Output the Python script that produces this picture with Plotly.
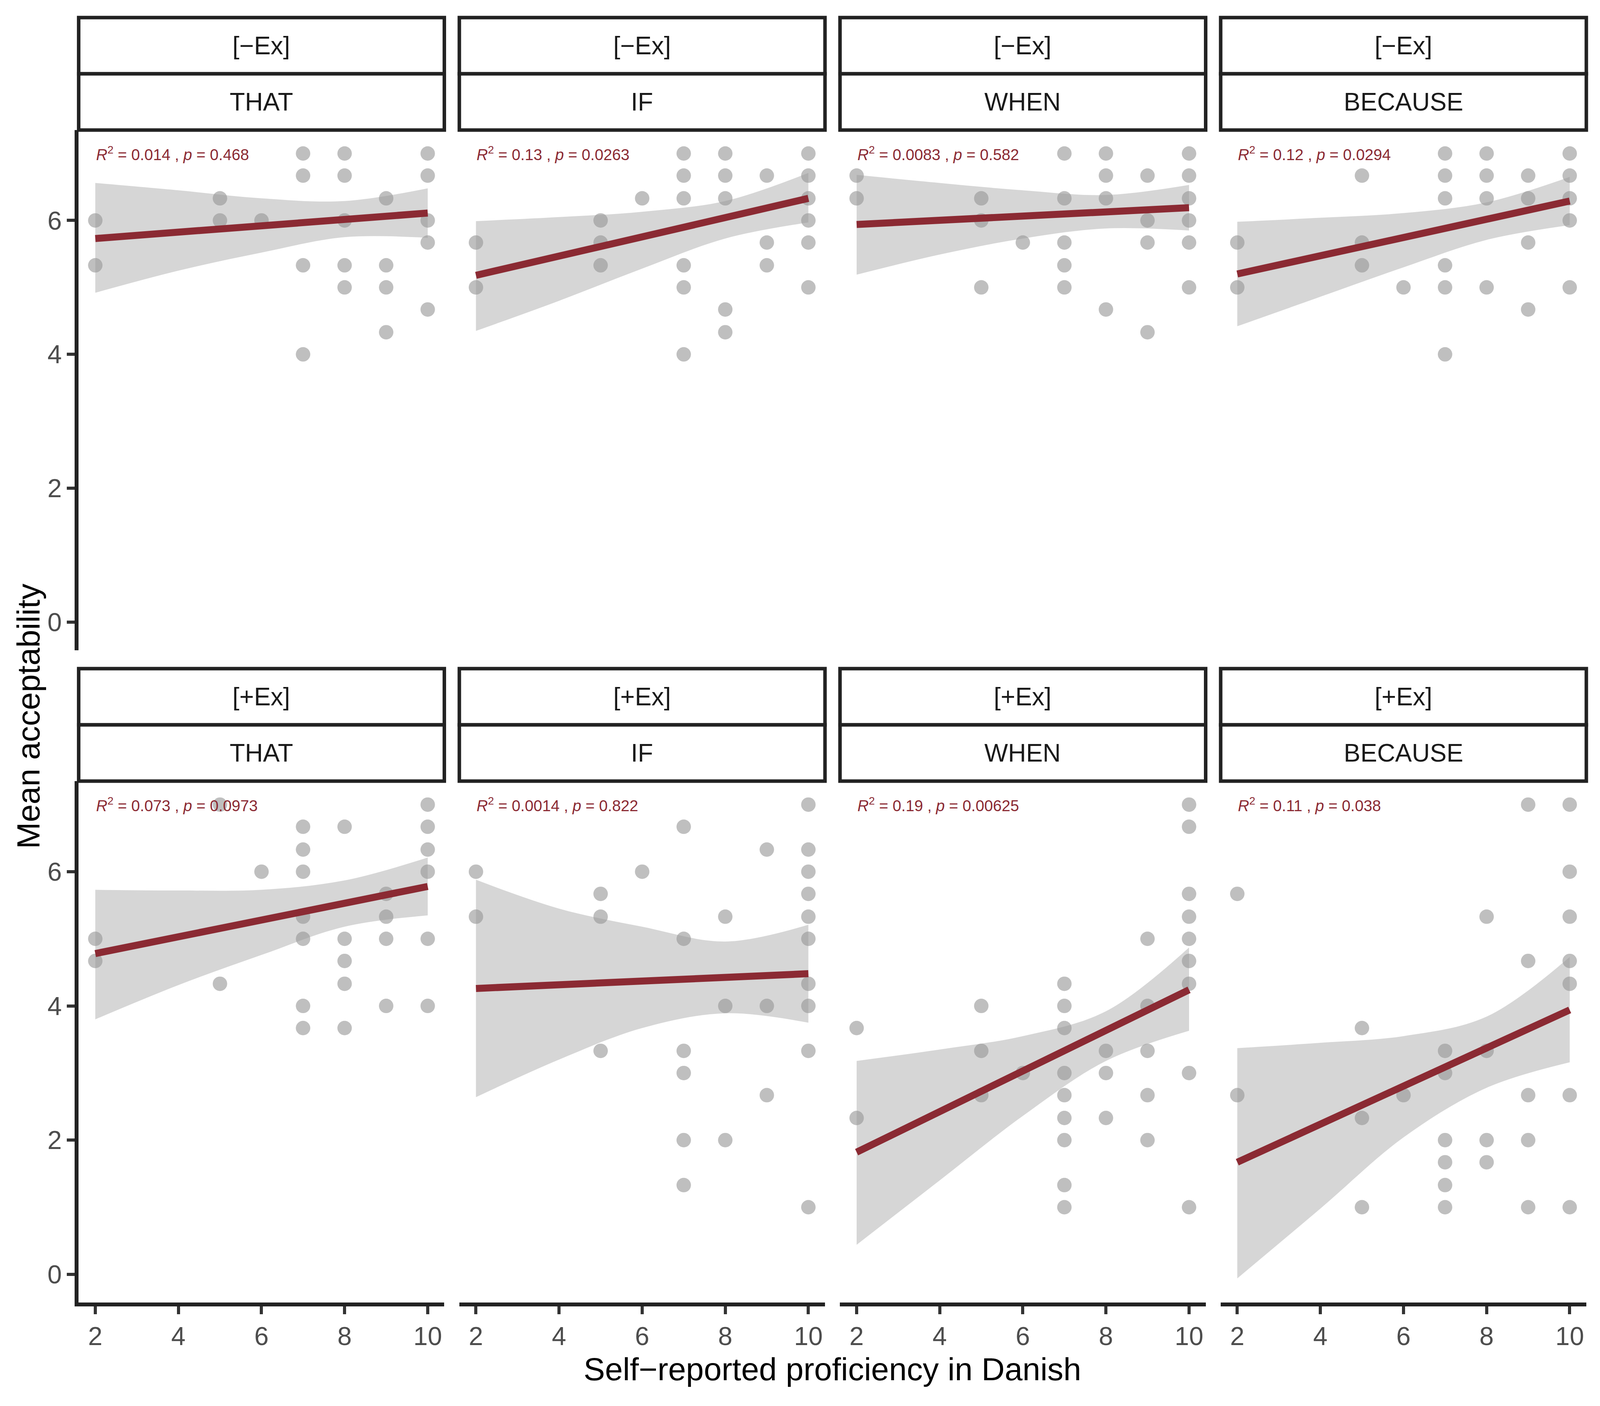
import plotly.graph_objects as go

# Self-reported proficiency (x) and mean acceptability (y), one pair of lists per panel
that_neg_x = [2, 2, 5, 5, 6, 7, 7, 7, 7, 8, 8, 8, 8, 8, 9, 9, 9, 9, 10, 10, 10, 10, 10]
that_neg_y = [6, 5.33, 6.33, 6, 6, 7, 6.67, 5.33, 4, 7, 6.67, 6, 5.33, 5, 6.33, 5.33, 5, 4.33,
              7, 6.67, 6, 5.67, 4.67]

if_neg_x = [2, 2, 5, 5, 5, 6, 7, 7, 7, 7, 7, 7, 8, 8, 8, 8, 8, 9, 9, 9, 10, 10, 10, 10, 10, 10]
if_neg_y = [5.67, 5, 6, 5.67, 5.33, 6.33, 7, 6.67, 6.33, 5.33, 5, 4, 7, 6.67, 6.33, 4.67, 4.33,
            6.67, 5.67, 5.33, 7, 6.67, 6.33, 6, 5.67, 5]

when_neg_x = [2, 2, 5, 5, 5, 6, 7, 7, 7, 7, 7, 8, 8, 8, 8, 9, 9, 9, 9, 10, 10, 10, 10, 10, 10]
when_neg_y = [6.67, 6.33, 6.33, 6, 5, 5.67, 7, 6.33, 5.67, 5.33, 5, 7, 6.67, 6.33, 4.67,
              6.67, 6, 5.67, 4.33, 7, 6.67, 6.33, 6, 5.67, 5]

because_neg_x = [2, 2, 5, 5, 5, 6, 7, 7, 7, 7, 7, 7, 8, 8, 8, 8, 9, 9, 9, 9, 10, 10, 10, 10, 10]
because_neg_y = [5.67, 5, 6.67, 5.67, 5.33, 5, 7, 6.67, 6.33, 5.33, 5, 4, 7, 6.67, 6.33, 5,
                 6.67, 6.33, 5.67, 4.67, 7, 6.67, 6.33, 6, 5]

that_pos_x = [2, 2, 5, 5, 6, 7, 7, 7, 7, 7, 7, 7, 8, 8, 8, 8, 8, 9, 9, 9, 9,
              10, 10, 10, 10, 10, 10]
that_pos_y = [5, 4.67, 7, 4.33, 6, 6.67, 6.33, 6, 5.33, 5, 4, 3.67, 6.67, 5, 4.67, 4.33, 3.67,
              5.67, 5.33, 5, 4, 7, 6.67, 6.33, 6, 5, 4]

if_pos_x = [2, 2, 5, 5, 5, 6, 7, 7, 7, 7, 7, 7, 8, 8, 8, 9, 9, 9,
            10, 10, 10, 10, 10, 10, 10, 10, 10, 10]
if_pos_y = [6, 5.33, 5.67, 5.33, 3.33, 6, 6.67, 5, 3.33, 3, 2, 1.33, 5.33, 4, 2, 6.33, 4, 2.67,
            7, 6.33, 6, 5.67, 5.33, 5, 4.33, 4, 3.33, 1]

when_pos_x = [2, 2, 5, 5, 5, 6, 7, 7, 7, 7, 7, 7, 7, 7, 7, 8, 8, 8, 9, 9, 9, 9, 9,
              10, 10, 10, 10, 10, 10, 10, 10, 10]
when_pos_y = [3.67, 2.33, 4, 3.33, 2.67, 3, 4.33, 4, 3.67, 3, 2.67, 2.33, 2, 1.33, 1,
              3.33, 3, 2.33, 5, 4, 3.33, 2.67, 2, 7, 6.67, 5.67, 5.33, 5, 4.67, 4.33, 3, 1]

because_pos_x = [2, 2, 5, 5, 5, 6, 7, 7, 7, 7, 7, 7, 8, 8, 8, 8, 9, 9, 9, 9, 9,
                 10, 10, 10, 10, 10, 10, 10]
because_pos_y = [5.67, 2.67, 3.67, 2.33, 1, 2.67, 3.33, 3, 2, 1.67, 1.33, 1, 5.33, 3.33, 2, 1.67,
                 7, 4.67, 2.67, 2, 1, 7, 6, 5.33, 4.67, 4.33, 2.67, 1]

# Fitted regression line (at x = 2 and 10) and confidence band (at x = 2, 4, 6, 8, 10)
fit_x = [2, 10]
band_x = [2, 4, 6, 8, 10]

that_neg_fit = [5.73, 6.11]
that_neg_lo = [4.92, 5.25, 5.52, 5.75, 5.74]
that_neg_hi = [6.56, 6.45, 6.33, 6.29, 6.48]

if_neg_fit = [5.18, 6.33]
if_neg_lo = [4.35, 4.80, 5.28, 5.73, 5.97]
if_neg_hi = [5.99, 6.05, 6.13, 6.29, 6.71]

when_neg_fit = [5.94, 6.19]
when_neg_lo = [5.19, 5.49, 5.73, 5.88, 5.85]
when_neg_hi = [6.68, 6.56, 6.45, 6.38, 6.53]

because_neg_fit = [5.20, 6.29]
because_neg_lo = [4.42, 4.86, 5.30, 5.71, 5.93]
because_neg_hi = [5.98, 6.04, 6.11, 6.27, 6.65]

that_pos_fit = [4.78, 5.78]
that_pos_lo = [3.80, 4.31, 4.76, 5.18, 5.35]
that_pos_hi = [5.73, 5.72, 5.73, 5.87, 6.21]

if_pos_fit = [4.26, 4.48]
if_pos_lo = [2.64, 3.20, 3.67, 3.89, 3.75]
if_pos_hi = [5.88, 5.45, 5.18, 4.96, 5.21]

when_pos_fit = [1.82, 4.24]
when_pos_lo = [0.44, 1.40, 2.36, 3.18, 3.63]
when_pos_hi = [3.18, 3.35, 3.55, 3.92, 4.87]

because_pos_fit = [1.67, 3.94]
because_pos_lo = [-0.06, 0.98, 2.04, 2.78, 3.16]
because_pos_hi = [3.37, 3.45, 3.55, 3.84, 4.73]

# Panel labels and stat_cor text
ex_labels = ["[\u2212Ex]", "[\u2212Ex]", "[\u2212Ex]", "[\u2212Ex]", "[+Ex]", "[+Ex]", "[+Ex]", "[+Ex]"]
conj_labels = ["THAT", "IF", "WHEN", "BECAUSE", "THAT", "IF", "WHEN", "BECAUSE"]
r2_labels = ["0.014", "0.13", "0.0083", "0.12", "0.073", "0.0014", "0.19", "0.11"]
p_labels = ["0.468", "0.0263", "0.582", "0.0294", "0.0973", "0.822", "0.00625", "0.038"]
x_ticks = [2, 4, 6, 8, 10]
y_ticks = [0, 2, 4, 6]

# the browser viewport is capped at 4096 px wide, so draw at 4096x3600 and
# keep the layout in fractions of the 4800x3600 reference
REF_W, H = 4800, 3600
W = 4096
FONT = "Liberation Sans, Arial, sans-serif"
RED = "#8B2A33"
DARK = "#222222"

points = [
    (that_neg_x, that_neg_y), (if_neg_x, if_neg_y), (when_neg_x, when_neg_y), (because_neg_x, because_neg_y),
    (that_pos_x, that_pos_y), (if_pos_x, if_pos_y), (when_pos_x, when_pos_y), (because_pos_x, because_pos_y),
]
fits = [that_neg_fit, if_neg_fit, when_neg_fit, because_neg_fit,
        that_pos_fit, if_pos_fit, when_pos_fit, because_pos_fit]
bands = [(that_neg_lo, that_neg_hi), (if_neg_lo, if_neg_hi), (when_neg_lo, when_neg_hi),
         (because_neg_lo, because_neg_hi), (that_pos_lo, that_pos_hi), (if_pos_lo, if_pos_hi),
         (when_pos_lo, when_pos_hi), (because_pos_lo, because_pos_hi)]

# panel geometry in reference pixels: (left, right) and (top, bottom) of each plotting area
col_px = [(236, 1333), (1378, 2475), (2520, 3617), (3662, 4759)]
row_px = [(333, 1665), (2000, 3335)]
strip_h = 144

fig = go.Figure()
layout = {}
shapes = []
annotations = []

for i in range(8):
    r, c = divmod(i, 4)
    n = "" if i == 0 else str(i + 1)
    xa, ya = "x" + n, "y" + n
    x0, x1 = col_px[c]
    top, bot = row_px[r]

    px_, py_ = points[i]
    fig.add_trace(go.Scatter(
        x=px_, y=py_, mode="markers", xaxis=xa, yaxis=ya,
        marker=dict(size=37, color="rgba(128,128,128,0.5)", line=dict(width=0)),
        hoverinfo="skip", showlegend=False))
    lo, hi = bands[i]
    fig.add_trace(go.Scatter(
        x=band_x, y=lo, mode="lines", xaxis=xa, yaxis=ya,
        line=dict(width=0, shape="spline"), hoverinfo="skip", showlegend=False))
    fig.add_trace(go.Scatter(
        x=band_x, y=hi, mode="lines", xaxis=xa, yaxis=ya, fill="tonexty",
        fillcolor="rgba(153,153,153,0.4)",
        line=dict(width=0, shape="spline"), hoverinfo="skip", showlegend=False))
    fig.add_trace(go.Scatter(
        x=fit_x, y=fits[i], mode="lines", xaxis=xa, yaxis=ya,
        line=dict(color=RED, width=18), hoverinfo="skip", showlegend=False))

    bottom_row = r == 1
    left_col = c == 0
    layout["xaxis" + n] = dict(
        domain=[x0 / REF_W, x1 / REF_W], anchor=ya, range=[1.6, 10.4],
        showgrid=False, zeroline=False,
        showline=bottom_row, linecolor=DARK, linewidth=10,
        ticks="outside" if bottom_row else "", ticklen=20, tickwidth=8, tickcolor="#333333",
        tickvals=x_ticks, showticklabels=bottom_row,
        tickfont=dict(family=FONT, size=66, color="#4D4D4D"))
    layout["yaxis" + n] = dict(
        domain=[(H - bot) / H, (H - top) / H], anchor=xa, range=[-0.42, 7.35],
        showgrid=False, zeroline=False,
        showline=left_col, linecolor=DARK, linewidth=10,
        ticks="outside" if left_col else "", ticklen=20, tickwidth=8, tickcolor="#333333",
        tickvals=y_ticks, showticklabels=left_col,
        tickfont=dict(family=FONT, size=66, color="#4D4D4D"))

    # two stacked facet strips
    for k, label in enumerate([ex_labels[i], conj_labels[i]]):
        s_top = top - 2 * strip_h + k * strip_h
        s_bot = s_top + strip_h
        shapes.append(dict(type="rect", xref="paper", yref="paper",
                           x0=x0 / REF_W, x1=x1 / REF_W, y0=(H - s_bot) / H, y1=(H - s_top) / H,
                           line=dict(color=DARK, width=9), fillcolor="white"))
        annotations.append(dict(xref="paper", yref="paper", x=(x0 + x1) / 2 / REF_W,
                                y=(H - (s_top + s_bot) / 2) / H, text=label, showarrow=False,
                                xanchor="center", yanchor="middle",
                                font=dict(family=FONT, size=64, color="#1A1A1A")))

    annotations.append(dict(
        xref=xa, yref=ya, x=2, y=7, xanchor="left", yanchor="middle", showarrow=False,
        text="<i>R</i><sup>2</sup> = " + r2_labels[i] + " , <i>p</i> = " + p_labels[i],
        font=dict(family=FONT, size=40, color=RED)))

annotations.append(dict(xref="paper", yref="paper", x=(236 + 4759) / 2 / REF_W, y=(H - 3505) / H,
                        text="Self\u2212reported proficiency in Danish", showarrow=False,
                        xanchor="center", yanchor="middle",
                        font=dict(family=FONT, size=82, color="black")))
annotations.append(dict(xref="paper", yref="paper", x=86 / REF_W, y=(H - 1834) / H,
                        text="Mean acceptability", showarrow=False, textangle=-90,
                        xanchor="center", yanchor="middle",
                        font=dict(family=FONT, size=82, color="black")))

fig.update_layout(
    width=W, height=H,
    margin=dict(l=0, r=0, t=0, b=0),
    paper_bgcolor="white", plot_bgcolor="white",
    shapes=shapes, annotations=annotations,
    **layout)

# drop the default body margin so the figure fills the viewport exactly
fig.write_html("out.html", config={"displayModeBar": False},
               post_script="document.body.style.margin = '0';")
